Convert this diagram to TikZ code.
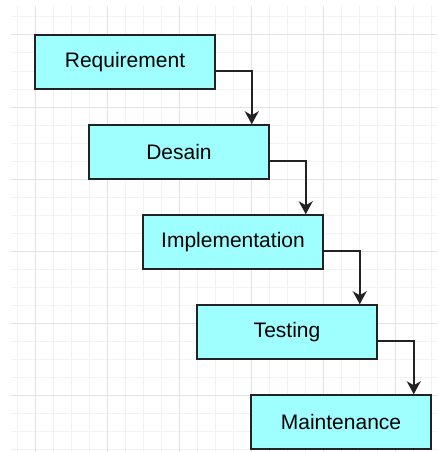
\documentclass[tikz,border=0pt]{standalone}
\usepackage{fontspec}
\setmainfont{Liberation Sans}
\usetikzlibrary{arrows.meta}
\definecolor{boxfill}{HTML}{9FFFFF}
\definecolor{boxline}{HTML}{222222}
\definecolor{minorgrid}{HTML}{F2F2F2}
\definecolor{majorgrid}{HTML}{E3E3E3}
\tikzset{
  phase/.style={draw=boxline, fill=boxfill, line width=1.5pt, minimum width=180pt, minimum height=54pt,
    inner sep=0pt, font=\fontsize{21}{25}\selectfont},
  flow/.style={draw=boxline, line width=1.5pt, -{Stealth[length=13pt, width=14pt, inset=4pt]}}
}
\begin{document}
\begin{tikzpicture}[x=1pt, y=-1pt]
            \useasboundingbox (0,0) rectangle (437,452);
            \foreach \x in {17,35,...,431} \draw[minorgrid, line width=1pt] (\x,6) -- (\x,452);
            \foreach \y in {17,35,...,449} \draw[minorgrid, line width=1pt] (11,\y) -- (437,\y);
            \foreach \x in {35,107,...,395} \draw[majorgrid, line width=1pt] (\x,6) -- (\x,452);
            \foreach \y in {35,107,...,395} \draw[majorgrid, line width=1pt] (11,\y) -- (437,\y);

            \node[phase] (req) at (125,62) {Requirement};
            \node[phase] (des) at (179,152) {Desain};
            \node[phase] (imp) at (233,242) {Implementation};
            \node[phase] (tes) at (287,332) {Testing};
            \node[phase] (mai) at (341,422) {Maintenance};

            \draw[flow] ([yshift=-9pt]req.east) -| ([xshift=-18pt]des.north east);
            \draw[flow] ([yshift=-9pt]des.east) -| ([xshift=-18pt]imp.north east);
            \draw[flow] ([yshift=-9pt]imp.east) -| ([xshift=-18pt]tes.north east);
            \draw[flow] ([yshift=-9pt]tes.east) -| ([xshift=-18pt]mai.north east);
        \end{tikzpicture}
\end{document}
